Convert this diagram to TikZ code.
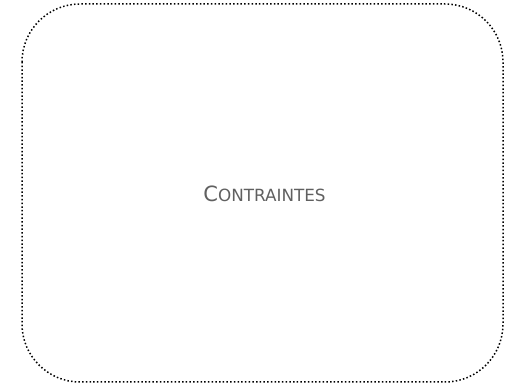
\documentclass[tikz,border=0pt]{standalone}
\usepackage{fontspec}
\setmainfont{DejaVu Sans}
\definecolor{txtgray}{HTML}{606060}
\tikzset{
  frame/.style={draw=black, line width=1.5pt, dash pattern=on 1.5pt off 2.2pt, rounded corners=58pt},
  label/.style={text=txtgray, inner sep=0pt}
}
\begin{document}
\begin{tikzpicture}[x=1pt,y=-1pt]
\useasboundingbox (0,0) rectangle (507,387);
\draw[frame] (22,4) rectangle (503,382);
\node[label] (t) at (264.5,194) {{\fontsize{21}{23}\selectfont C}{\fontsize{16.8}{18}\selectfont ONTRAINTES}};
\end{tikzpicture}
\end{document}
